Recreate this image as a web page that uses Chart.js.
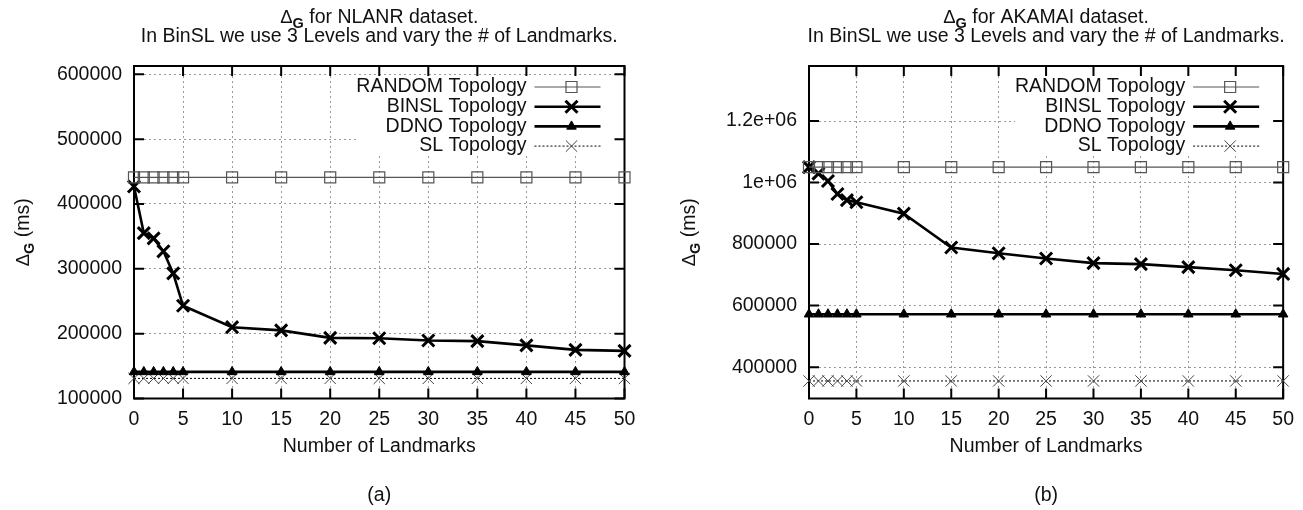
<!DOCTYPE html>
<html>
<head>
<meta charset="utf-8">
<script src="https://cdn.jsdelivr.net/npm/chart.js@4.4.1/dist/chart.umd.min.js"></script>
<style>
html, body { margin: 0; padding: 0; background: #fff; }
#wrap { position: relative; width: 1303px; height: 510px; }
#left { position: absolute; left: 0; top: 0; }
#right { position: absolute; left: 650px; top: 0; }
</style>
</head>
<body>
<div id="wrap">
<canvas id="left" width="650" height="510"></canvas>
<canvas id="right" width="653" height="510"></canvas>
</div>
<script>
// x values (number of landmarks) and tick labels
const landmarks = [0, 1, 2, 3, 4, 5, 10, 15, 20, 25, 30, 35, 40, 45, 50];
const xTicks = [0, 5, 10, 15, 20, 25, 30, 35, 40, 45, 50];
const seriesNames = ['RANDOM Topology', 'BINSL Topology', 'DDNO Topology', 'SL Topology'];

// (a) NLANR
const nlanrRandom = [441000, 441000, 441000, 441000, 441000, 441000, 441000, 441000, 441000, 441000, 441000, 441000, 441000, 441000, 441000];
const nlanrBinsl = [427000, 355000, 347000, 327000, 293000, 243000, 210000, 205000, 193500, 193000, 189500, 188500, 182000, 175000, 173500];
const nlanrDdno = [141000, 141000, 141000, 141000, 141000, 141000, 141000, 141000, 141000, 141000, 141000, 141000, 141000, 141000, 141000];
const nlanrSl = [131000, 131000, 131000, 131000, 131000, 131000, 131000, 131000, 131000, 131000, 131000, 131000, 131000, 131000, 131000];
const nlanrYTicks = [100000, 200000, 300000, 400000, 500000, 600000];
const nlanrYLabels = ['100000', '200000', '300000', '400000', '500000', '600000'];

// (b) AKAMAI
const akamaiRandom = [1050000, 1050000, 1050000, 1050000, 1050000, 1050000, 1050000, 1050000, 1050000, 1050000, 1050000, 1050000, 1050000, 1050000, 1050000];
const akamaiBinsl = [1050000, 1029000, 1005000, 963000, 943000, 936000, 899000, 789000, 770000, 753000, 738000, 735000, 725000, 715000, 703000];
const akamaiDdno = [572000, 572000, 572000, 572000, 572000, 572000, 572000, 572000, 572000, 572000, 572000, 572000, 572000, 572000, 572000];
const akamaiSl = [355000, 355000, 355000, 355000, 355000, 355000, 355000, 355000, 355000, 355000, 355000, 355000, 355000, 355000, 355000];
const akamaiYTicks = [400000, 600000, 800000, 1000000, 1200000];
const akamaiYLabels = ['400000', '600000', '800000', '1e+06', '1.2e+06'];

const FONT = '"Liberation Sans", Arial, Helvetica, sans-serif';
const FS = 19.5;
const TEXT = '#111';

function drawDeltaG(ctx, rest, cx, baseline) {
    const parts = [
        { t: 'Δ', f: '18.5px ' + FONT, dy: 0 },
        { t: 'G', f: 'bold 14.5px ' + FONT, dy: 5 },
        { t: rest, f: FS + 'px ' + FONT, dy: 0 }
    ];
    let w = 0;
    parts.forEach(p => { ctx.font = p.f; p.w = ctx.measureText(p.t).width; w += p.w; });
    let x = cx - w / 2;
    ctx.textAlign = 'left';
    ctx.textBaseline = 'alphabetic';
    parts.forEach(p => { ctx.font = p.f; ctx.fillText(p.t, x, baseline + p.dy); x += p.w; });
}

function makeDatasets(random, binsl, ddno, sl) {
    const pts = vals => landmarks.map((x, i) => ({ x: x, y: vals[i] }));
    return [
        { label: seriesNames[0], data: pts(random), borderColor: '#555', borderWidth: 1.2,
          pointStyle: 'rect', pointRadius: 7.8, pointBorderColor: '#555', pointBorderWidth: 1.2,
          pointBackgroundColor: 'rgba(0,0,0,0)', clip: false },
        { label: seriesNames[1], data: pts(binsl), borderColor: '#000', borderWidth: 2.6,
          pointStyle: 'crossRot', pointRadius: 8.5, pointBorderColor: '#000', pointBorderWidth: 3,
          clip: false },
        { label: seriesNames[2], data: pts(ddno), borderColor: '#000', borderWidth: 2.6,
          pointStyle: 'triangle', pointRadius: 5.5, pointBorderColor: '#000', pointBorderWidth: 1,
          pointBackgroundColor: '#000', clip: false },
        { label: seriesNames[3], data: pts(sl), borderColor: '#000', borderWidth: 1, borderDash: [2, 2],
          pointStyle: 'crossRot', pointRadius: 8, pointBorderColor: '#444', pointBorderWidth: 1,
          clip: false }
    ];
}

function makePanel(id, cfg) {
    const canvas = document.getElementById(id);
    const W = canvas.width;

    const frame = {
        id: 'frame',
        beforeDatasetsDraw(chart) {
            const ctx = chart.ctx;
            const a = chart.chartArea;
            const xs = chart.scales.x, ys = chart.scales.y;
            ctx.save();
            // legend box hides the grid
            ctx.fillStyle = '#fff';
            ctx.fillRect(a.right - 268, 76, 266, 79);
            // inward ticks
            ctx.strokeStyle = '#000';
            ctx.lineWidth = 2;
            ctx.beginPath();
            xTicks.forEach(v => {
                const px = xs.getPixelForValue(v);
                ctx.moveTo(px, a.bottom); ctx.lineTo(px, a.bottom - 10);
                ctx.moveTo(px, a.top); ctx.lineTo(px, a.top + 10);
            });
            cfg.yTicks.forEach(v => {
                const py = ys.getPixelForValue(v);
                ctx.moveTo(a.left, py); ctx.lineTo(a.left + 10, py);
                ctx.moveTo(a.right, py); ctx.lineTo(a.right - 10, py);
            });
            ctx.stroke();
            ctx.strokeRect(a.left, a.top, a.right - a.left, a.bottom - a.top);
            ctx.restore();
        },
        afterDatasetsDraw(chart) {
            const ctx = chart.ctx;
            const a = chart.chartArea;
            ctx.save();
            chart.data.datasets.forEach((ds, i) => {
                const y = 87 + i * 19.7;
                ctx.fillStyle = TEXT;
                ctx.font = FS + 'px ' + FONT;
                ctx.textAlign = 'right';
                ctx.textBaseline = 'middle';
                ctx.fillText(ds.label, a.right - 98, y);
                ctx.strokeStyle = ds.borderColor;
                ctx.lineWidth = ds.borderWidth;
                ctx.setLineDash(ds.borderDash || []);
                ctx.beginPath();
                ctx.moveTo(a.right - 90, y); ctx.lineTo(a.right - 24, y);
                ctx.stroke();
                ctx.setLineDash([]);
                ctx.strokeStyle = ds.pointBorderColor;
                ctx.fillStyle = ds.pointBackgroundColor || 'rgba(0,0,0,0)';
                ctx.lineWidth = ds.pointBorderWidth;
                Chart.helpers.drawPoint(ctx, { pointStyle: ds.pointStyle, radius: ds.pointRadius, rotation: 0, borderWidth: ds.pointBorderWidth }, a.right - 53, y);
            });
            ctx.restore();
        },
        afterDraw(chart) {
            const ctx = chart.ctx;
            const a = chart.chartArea;
            const cx = (a.left + a.right) / 2;
            ctx.save();
            ctx.fillStyle = TEXT;
            drawDeltaG(ctx, ' for ' + cfg.name + ' dataset.', cx, 23);
            ctx.font = FS + 'px ' + FONT;
            ctx.textAlign = 'center';
            ctx.textBaseline = 'alphabetic';
            ctx.fillText('In BinSL we use 3 Levels and vary the # of Landmarks.', cx, 42);
            ctx.textBaseline = 'middle';
            ctx.fillText('Number of Landmarks', cx, 447);
            ctx.fillText(cfg.caption, cx, 496);
            ctx.translate(cfg.yTitleX, (a.top + a.bottom) / 2);
            ctx.rotate(-Math.PI / 2);
            drawDeltaG(ctx, ' (ms)', 0, 7);
            ctx.restore();
        }
    };

    return new Chart(canvas, {
        type: 'line',
        data: { datasets: makeDatasets(cfg.random, cfg.binsl, cfg.ddno, cfg.sl) },
        options: {
            responsive: false,
            animation: false,
            layout: { padding: { top: 66, right: W - cfg.areaRight, left: 0, bottom: 0 } },
            elements: { line: { tension: 0 } },
            plugins: { legend: { display: false }, title: { display: false }, tooltip: { enabled: false } },
            scales: {
                x: {
                    type: 'linear', min: 0, max: 50,
                    afterBuildTicks: s => { s.ticks = xTicks.map(v => ({ value: v })); },
                    afterFit: s => { s.height = 111.5; },
                    grid: { color: '#9a9a9a', lineWidth: 1, drawTicks: false },
                    border: { display: false, dash: [2, 3] },
                    ticks: { color: TEXT, font: { family: FONT, size: FS }, padding: 9, maxRotation: 0, autoSkip: false }
                },
                y: {
                    type: 'linear', min: cfg.yMin, max: cfg.yMax,
                    afterBuildTicks: s => { s.ticks = cfg.yTicks.map(v => ({ value: v })); },
                    afterFit: s => { s.width = cfg.areaLeft; },
                    grid: { color: '#9a9a9a', lineWidth: 1, drawTicks: false },
                    border: { display: false, dash: [2, 3] },
                    ticks: {
                        color: TEXT, font: { family: FONT, size: FS }, padding: 12, autoSkip: false,
                        callback: (v, i) => cfg.yLabels[i]
                    }
                }
            }
        },
        plugins: [frame]
    });
}

makePanel('left', {
    name: 'NLANR', caption: '(a)',
    random: nlanrRandom, binsl: nlanrBinsl, ddno: nlanrDdno, sl: nlanrSl,
    yMin: 100000, yMax: 612800, yTicks: nlanrYTicks, yLabels: nlanrYLabels,
    areaLeft: 134, areaRight: 624.5, yTitleX: 22
});

makePanel('right', {
    name: 'AKAMAI', caption: '(b)',
    random: akamaiRandom, binsl: akamaiBinsl, ddno: akamaiDdno, sl: akamaiSl,
    yMin: 298000, yMax: 1379000, yTicks: akamaiYTicks, yLabels: akamaiYLabels,
    areaLeft: 159, areaRight: 635.5, yTitleX: 38
});
</script>
</body>
</html>
